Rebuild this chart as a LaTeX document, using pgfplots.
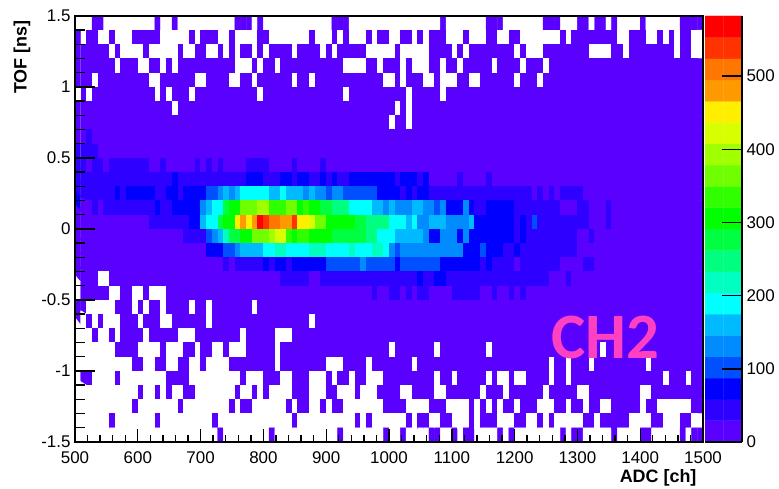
\documentclass[border=0pt]{standalone}
\usepackage{pgfplots}
\pgfplotsset{compat=1.18}
\usepackage{fontspec}
\setmainfont{Liberation Sans}
\newfontfamily\chfont{Carlito}
\pgfplotsset{
  rootcolors/.style={
    colormap={root}{
      rgb255(0pt)=(255,255,255) rgb255(9pt)=(90,0,255) rgb255(44pt)=(46,0,255) rgb255(73pt)=(0,0,255)
      rgb255(102pt)=(0,80,255) rgb255(131pt)=(0,140,255) rgb255(160pt)=(0,186,255) rgb255(189pt)=(0,255,255)
      rgb255(218pt)=(0,255,192) rgb255(247pt)=(0,255,128) rgb255(276pt)=(0,255,64) rgb255(305pt)=(0,255,0)
      rgb255(335pt)=(48,255,0) rgb255(364pt)=(112,255,0) rgb255(393pt)=(160,255,0) rgb255(422pt)=(216,255,0)
      rgb255(451pt)=(255,238,0) rgb255(480pt)=(255,153,0) rgb255(509pt)=(255,119,0) rgb255(538pt)=(255,51,0)
      rgb255(567pt)=(255,0,0)
    },
    point meta min=0, point meta max=567
  }
}
\begin{document}
\begin{tikzpicture}
\path[use as bounding box] (-75bp,-47bp) rectangle (704bp,442bp);
\begin{axis}[
  at={(0bp,0bp)}, anchor=south west, scale only axis, width=628bp, height=426bp,
  rootcolors, axis on top,
  xmin=500, xmax=1500, ymin=-1.5, ymax=1.5,
  axis line style={line width=1.3bp},
  xtick={500,600,700,800,900,1000,1100,1200,1300,1400,1500},
  xticklabels={500,600,700,800,900,1000,1100,1200,1300,1400,1500},
  minor x tick num=4,
  ytick=\empty,
  tick align=inside, xtick pos=bottom,
  major tick length=13bp, minor tick length=7bp,
  every tick/.style={black,line width=1.4bp},
  tick label style={font=\fontsize{17}{18}\selectfont},
  xticklabel style={yshift=-6bp},
]
\addplot[matrix plot*, mesh/cols=110, mesh/rows=30, mesh/ordering=x varies, point meta=explicit]
 table[header=false, row sep=\\, x expr={500+(mod(\coordindex,110)+0.5)*1000/110}, y expr={1.45-0.1*floor(\coordindex/110)}, meta index=0]{
0\\0\\0\\9\\9\\0\\0\\0\\0\\0\\ 0\\0\\0\\0\\9\\0\\0\\9\\0\\0\\ 0\\0\\0\\0\\0\\0\\0\\0\\9\\9\\ 9\\0\\9\\0\\0\\0\\0\\0\\0\\0\\ 0\\0\\0\\0\\0\\9\\9\\9\\0\\0\\ 0\\0\\0\\0\\0\\0\\0\\0\\0\\0\\ 0\\0\\0\\0\\9\\0\\0\\0\\0\\0\\ 0\\0\\9\\9\\9\\0\\0\\0\\0\\0\\ 0\\0\\9\\9\\9\\0\\0\\0\\9\\9\\ 0\\9\\9\\0\\9\\0\\0\\0\\0\\9\\ 0\\0\\0\\0\\0\\0\\9\\9\\9\\9\\
9\\0\\9\\9\\0\\0\\9\\0\\0\\0\\ 9\\9\\9\\9\\9\\0\\0\\0\\0\\0\\ 9\\0\\9\\9\\9\\0\\0\\9\\0\\0\\ 0\\0\\9\\9\\0\\0\\0\\0\\0\\0\\ 0\\9\\0\\0\\0\\9\\0\\9\\0\\0\\ 0\\9\\0\\9\\9\\0\\0\\9\\9\\0\\ 9\\0\\9\\9\\9\\0\\0\\0\\9\\0\\ 0\\0\\9\\9\\0\\0\\9\\9\\0\\0\\ 0\\0\\0\\0\\0\\9\\0\\9\\9\\9\\ 9\\9\\9\\9\\9\\0\\0\\9\\9\\9\\ 0\\0\\9\\0\\9\\0\\9\\9\\0\\0\\
9\\9\\9\\9\\9\\9\\0\\9\\0\\0\\ 0\\0\\9\\0\\0\\0\\0\\0\\9\\0\\ 0\\9\\9\\0\\0\\9\\0\\9\\0\\9\\ 9\\0\\9\\0\\9\\9\\9\\9\\0\\9\\ 9\\9\\9\\0\\9\\0\\9\\9\\9\\9\\ 9\\0\\0\\0\\0\\0\\9\\0\\0\\0\\ 0\\0\\9\\9\\9\\9\\0\\9\\0\\9\\ 9\\9\\9\\9\\9\\9\\9\\0\\9\\0\\ 0\\0\\9\\9\\9\\9\\9\\9\\9\\9\\ 0\\0\\0\\0\\9\\9\\0\\9\\9\\9\\ 9\\9\\9\\9\\9\\0\\9\\9\\0\\0\\
9\\9\\9\\9\\9\\9\\9\\0\\9\\9\\ 9\\0\\0\\9\\9\\0\\9\\0\\9\\9\\ 9\\9\\9\\9\\9\\9\\9\\9\\0\\0\\ 0\\9\\0\\9\\9\\0\\9\\9\\9\\9\\ 9\\9\\9\\9\\9\\9\\9\\0\\0\\0\\ 0\\9\\9\\0\\9\\9\\9\\0\\9\\0\\ 0\\0\\9\\9\\0\\9\\9\\0\\9\\9\\ 9\\9\\9\\0\\9\\9\\9\\9\\0\\9\\ 9\\9\\0\\9\\9\\9\\9\\9\\9\\9\\ 9\\9\\9\\9\\9\\9\\9\\9\\9\\9\\ 9\\9\\9\\9\\9\\9\\9\\9\\9\\9\\
9\\9\\9\\0\\9\\9\\9\\9\\9\\9\\ 9\\9\\9\\0\\0\\9\\9\\9\\9\\9\\ 9\\0\\0\\9\\9\\9\\9\\0\\0\\9\\ 9\\0\\9\\9\\9\\9\\9\\9\\0\\9\\ 9\\0\\9\\9\\9\\9\\9\\9\\9\\9\\ 9\\9\\9\\9\\0\\0\\9\\0\\9\\9\\ 9\\0\\0\\9\\0\\0\\0\\9\\9\\0\\ 0\\9\\9\\9\\9\\9\\9\\0\\9\\9\\ 9\\0\\9\\9\\9\\9\\9\\9\\9\\9\\ 9\\9\\9\\9\\9\\9\\9\\9\\9\\9\\ 9\\9\\9\\9\\9\\9\\9\\9\\9\\9\\
0\\9\\0\\9\\9\\9\\9\\9\\9\\9\\ 9\\9\\9\\9\\0\\9\\0\\9\\9\\9\\ 0\\9\\9\\9\\9\\9\\9\\9\\9\\9\\ 9\\9\\0\\9\\9\\9\\9\\9\\9\\9\\ 9\\9\\9\\9\\9\\9\\9\\0\\9\\9\\ 9\\9\\9\\9\\9\\9\\9\\9\\0\\9\\ 9\\9\\9\\9\\0\\9\\9\\9\\9\\9\\ 9\\9\\9\\9\\9\\9\\9\\9\\9\\9\\ 9\\9\\9\\9\\9\\9\\9\\9\\9\\9\\ 9\\9\\9\\9\\9\\9\\9\\9\\9\\9\\ 9\\9\\9\\9\\9\\9\\9\\9\\9\\9\\
9\\9\\9\\9\\9\\9\\9\\9\\9\\9\\ 9\\9\\9\\9\\9\\9\\9\\0\\9\\9\\ 9\\9\\9\\9\\9\\9\\9\\9\\9\\9\\ 9\\9\\9\\9\\9\\9\\9\\9\\9\\9\\ 9\\9\\9\\9\\9\\9\\9\\9\\9\\9\\ 9\\9\\9\\9\\9\\9\\0\\9\\0\\9\\ 9\\9\\9\\9\\9\\9\\9\\9\\9\\9\\ 9\\9\\9\\9\\9\\9\\9\\9\\9\\9\\ 9\\9\\9\\9\\9\\9\\9\\9\\9\\9\\ 9\\9\\9\\9\\9\\9\\9\\9\\9\\9\\ 9\\9\\9\\9\\9\\9\\9\\9\\9\\9\\
9\\9\\9\\9\\9\\9\\9\\9\\9\\9\\ 9\\9\\9\\9\\9\\9\\9\\9\\9\\9\\ 9\\9\\9\\9\\9\\9\\9\\9\\9\\9\\ 9\\9\\9\\9\\9\\9\\9\\9\\9\\9\\ 9\\9\\9\\9\\9\\9\\9\\9\\9\\9\\ 9\\9\\9\\9\\9\\0\\9\\9\\0\\9\\ 9\\9\\9\\9\\9\\9\\9\\9\\9\\9\\ 9\\9\\9\\9\\9\\9\\9\\9\\9\\9\\ 9\\9\\9\\9\\9\\9\\9\\9\\9\\9\\ 9\\9\\9\\9\\9\\9\\9\\9\\9\\9\\ 9\\9\\9\\9\\9\\9\\9\\9\\9\\9\\
9\\9\\44\\9\\9\\9\\9\\9\\9\\9\\ 9\\9\\9\\9\\9\\9\\9\\9\\9\\9\\ 9\\9\\9\\9\\9\\9\\9\\9\\9\\9\\ 9\\9\\9\\9\\9\\9\\9\\9\\9\\9\\ 9\\9\\9\\9\\9\\9\\9\\9\\9\\9\\ 9\\9\\9\\9\\9\\9\\9\\9\\9\\9\\ 9\\9\\9\\9\\9\\9\\9\\9\\9\\9\\ 9\\9\\9\\9\\9\\9\\9\\9\\9\\9\\ 9\\9\\9\\9\\9\\9\\9\\9\\9\\9\\ 9\\9\\9\\9\\9\\9\\9\\9\\9\\9\\ 9\\9\\9\\9\\9\\9\\9\\9\\9\\9\\
44\\44\\44\\44\\9\\9\\9\\9\\9\\9\\ 9\\9\\9\\9\\9\\9\\9\\9\\9\\9\\ 9\\9\\9\\9\\9\\9\\9\\9\\9\\9\\ 9\\9\\9\\9\\9\\9\\9\\9\\9\\9\\ 9\\9\\9\\9\\9\\9\\9\\9\\9\\9\\ 9\\9\\9\\9\\9\\9\\9\\9\\9\\9\\ 9\\9\\9\\9\\9\\9\\9\\9\\9\\9\\ 9\\9\\9\\9\\9\\9\\9\\9\\9\\9\\ 9\\9\\9\\9\\9\\9\\9\\9\\9\\9\\ 9\\9\\9\\9\\9\\9\\9\\9\\9\\9\\ 9\\9\\9\\9\\9\\9\\9\\9\\9\\9\\
44\\44\\9\\44\\44\\9\\44\\44\\44\\44\\ 44\\44\\44\\9\\9\\44\\9\\9\\9\\9\\ 9\\44\\9\\44\\9\\44\\9\\9\\9\\9\\ 44\\44\\44\\44\\9\\9\\9\\9\\44\\9\\ 9\\9\\9\\44\\9\\9\\9\\9\\9\\9\\ 9\\9\\9\\9\\9\\9\\9\\9\\9\\9\\ 9\\9\\9\\9\\9\\9\\9\\9\\9\\9\\ 9\\9\\9\\9\\9\\9\\9\\9\\9\\9\\ 9\\9\\9\\9\\9\\9\\9\\9\\9\\9\\ 9\\9\\9\\9\\9\\9\\9\\9\\9\\9\\ 9\\9\\9\\9\\9\\9\\9\\9\\9\\9\\
44\\44\\44\\44\\44\\44\\44\\44\\44\\44\\ 44\\44\\44\\44\\44\\44\\44\\73\\44\\44\\ 44\\44\\44\\44\\44\\44\\44\\44\\44\\44\\ 73\\73\\73\\44\\44\\44\\73\\73\\44\\73\\ 73\\44\\44\\73\\44\\73\\44\\44\\73\\73\\ 73\\73\\73\\73\\73\\73\\44\\73\\73\\73\\ 44\\73\\9\\9\\9\\9\\9\\44\\9\\9\\ 9\\9\\44\\9\\9\\9\\9\\9\\9\\9\\ 9\\9\\9\\9\\9\\9\\9\\9\\9\\9\\ 9\\9\\9\\9\\9\\9\\9\\9\\9\\9\\ 9\\9\\9\\9\\9\\9\\9\\9\\9\\9\\
44\\44\\44\\44\\44\\44\\44\\73\\44\\73\\ 73\\73\\73\\73\\44\\44\\73\\73\\44\\73\\ 73\\73\\73\\102\\102\\131\\160\\131\\160\\189\\ 189\\189\\189\\189\\160\\160\\189\\160\\160\\160\\ 131\\160\\131\\131\\102\\131\\131\\102\\102\\102\\ 102\\102\\102\\73\\73\\73\\73\\44\\73\\44\\ 73\\73\\44\\44\\44\\44\\44\\44\\44\\44\\ 44\\44\\44\\44\\44\\44\\44\\44\\44\\44\\ 9\\44\\9\\44\\9\\44\\44\\44\\44\\9\\ 9\\9\\9\\9\\9\\9\\9\\9\\9\\9\\ 9\\9\\9\\9\\9\\9\\9\\9\\9\\9\\
73\\9\\9\\44\\9\\44\\44\\44\\44\\44\\ 44\\44\\44\\44\\73\\44\\44\\73\\73\\73\\ 73\\73\\131\\160\\189\\189\\276\\305\\305\\364\\ 364\\364\\393\\393\\335\\335\\335\\364\\364\\305\\ 335\\305\\305\\276\\276\\247\\247\\247\\189\\189\\ 189\\189\\160\\160\\131\\160\\131\\131\\131\\160\\ 160\\131\\131\\102\\131\\73\\73\\73\\131\\73\\ 44\\44\\73\\73\\73\\73\\73\\44\\44\\44\\ 44\\44\\44\\44\\44\\9\\9\\9\\44\\44\\ 9\\9\\9\\44\\9\\9\\9\\9\\9\\9\\ 9\\9\\9\\9\\9\\9\\9\\9\\9\\9\\
9\\9\\9\\9\\9\\9\\9\\9\\9\\9\\ 9\\9\\9\\44\\44\\44\\44\\44\\44\\44\\ 73\\73\\160\\189\\189\\276\\305\\305\\451\\480\\ 451\\480\\567\\538\\509\\509\\480\\480\\538\\451\\ 451\\422\\364\\364\\305\\305\\305\\305\\305\\276\\ 276\\247\\247\\247\\247\\189\\189\\189\\160\\189\\ 131\\131\\160\\160\\160\\131\\131\\131\\131\\160\\ 73\\73\\73\\73\\73\\73\\73\\44\\73\\44\\ 102\\44\\44\\44\\44\\44\\44\\44\\44\\44\\ 9\\9\\9\\44\\9\\9\\9\\9\\9\\9\\ 9\\9\\9\\9\\9\\9\\9\\9\\9\\9\\
9\\9\\9\\9\\9\\9\\9\\9\\9\\9\\ 9\\9\\9\\9\\9\\9\\9\\9\\9\\44\\ 44\\44\\44\\102\\131\\160\\218\\276\\276\\305\\ 305\\364\\364\\364\\393\\422\\422\\335\\305\\335\\ 335\\305\\305\\305\\305\\276\\276\\276\\276\\276\\ 276\\247\\247\\189\\189\\189\\160\\160\\160\\160\\ 160\\131\\73\\73\\131\\131\\131\\73\\131\\73\\ 73\\73\\73\\73\\73\\73\\73\\44\\73\\44\\ 44\\44\\44\\44\\44\\44\\44\\44\\9\\9\\ 44\\9\\9\\9\\9\\9\\9\\9\\9\\9\\ 9\\9\\9\\9\\9\\9\\9\\9\\9\\9\\
9\\9\\9\\9\\9\\9\\9\\9\\9\\9\\ 9\\9\\9\\9\\9\\9\\9\\9\\9\\9\\ 9\\9\\9\\73\\73\\73\\102\\102\\131\\160\\ 160\\160\\160\\189\\189\\218\\218\\189\\189\\189\\ 189\\218\\218\\218\\189\\189\\189\\189\\218\\189\\ 189\\189\\218\\218\\189\\131\\102\\131\\131\\131\\ 131\\131\\131\\131\\131\\131\\131\\131\\73\\73\\ 73\\102\\73\\73\\73\\44\\44\\73\\44\\44\\ 44\\44\\44\\44\\44\\44\\44\\44\\9\\9\\ 9\\9\\9\\9\\9\\9\\9\\9\\9\\9\\ 9\\9\\9\\9\\9\\9\\9\\9\\9\\9\\
9\\9\\9\\9\\9\\9\\9\\9\\9\\9\\ 9\\9\\9\\9\\9\\9\\9\\9\\9\\9\\ 9\\9\\9\\9\\9\\9\\44\\9\\44\\44\\ 44\\44\\44\\73\\44\\73\\73\\44\\73\\73\\ 73\\73\\73\\73\\102\\102\\102\\102\\102\\102\\ 131\\102\\102\\102\\102\\102\\73\\102\\102\\102\\ 102\\102\\102\\102\\73\\73\\73\\73\\73\\73\\ 73\\44\\73\\44\\44\\44\\44\\9\\44\\44\\ 44\\44\\44\\44\\44\\9\\9\\9\\9\\44\\ 44\\9\\9\\9\\9\\9\\9\\9\\9\\9\\ 9\\9\\9\\9\\9\\9\\9\\9\\9\\9\\
9\\9\\9\\9\\0\\0\\9\\9\\9\\9\\ 9\\9\\9\\9\\9\\9\\9\\9\\9\\9\\ 9\\9\\9\\9\\9\\9\\9\\9\\9\\9\\ 9\\9\\9\\9\\9\\9\\44\\44\\44\\44\\ 44\\9\\9\\44\\44\\44\\44\\44\\44\\44\\ 44\\44\\44\\44\\44\\44\\44\\44\\44\\44\\ 73\\44\\44\\73\\73\\44\\44\\44\\44\\44\\ 44\\44\\44\\44\\44\\44\\44\\44\\44\\44\\ 44\\44\\44\\9\\9\\9\\44\\9\\9\\9\\ 9\\9\\9\\9\\9\\9\\9\\9\\9\\9\\ 9\\9\\9\\9\\9\\9\\9\\9\\9\\9\\
0\\9\\9\\9\\9\\9\\0\\0\\9\\9\\ 0\\0\\9\\0\\0\\0\\9\\9\\9\\9\\ 9\\9\\9\\9\\9\\9\\9\\9\\9\\9\\ 9\\9\\9\\9\\9\\9\\9\\9\\9\\9\\ 9\\9\\9\\9\\9\\9\\9\\9\\9\\9\\ 9\\9\\44\\9\\9\\44\\44\\9\\44\\9\\ 44\\44\\9\\9\\9\\9\\44\\44\\44\\44\\ 44\\9\\9\\44\\9\\9\\44\\9\\44\\9\\ 9\\9\\9\\9\\9\\9\\9\\9\\9\\9\\ 9\\9\\9\\9\\9\\9\\9\\9\\9\\9\\ 9\\9\\9\\9\\9\\9\\9\\9\\9\\9\\
9\\9\\0\\0\\0\\0\\0\\9\\9\\9\\ 0\\9\\0\\9\\9\\0\\9\\9\\9\\9\\ 0\\9\\9\\0\\9\\9\\9\\9\\9\\9\\ 9\\0\\9\\9\\9\\9\\9\\9\\9\\9\\ 9\\9\\9\\9\\9\\9\\9\\9\\9\\9\\ 9\\9\\9\\9\\9\\9\\9\\9\\9\\9\\ 9\\9\\9\\9\\9\\9\\9\\9\\9\\9\\ 9\\9\\9\\9\\9\\9\\9\\9\\9\\9\\ 9\\9\\9\\9\\9\\9\\9\\9\\9\\9\\ 9\\9\\9\\9\\9\\9\\9\\9\\9\\9\\ 9\\9\\9\\9\\9\\9\\9\\9\\9\\9\\
9\\0\\9\\0\\9\\0\\0\\0\\9\\9\\ 9\\0\\9\\9\\9\\0\\0\\9\\9\\9\\ 9\\9\\9\\0\\9\\9\\9\\9\\9\\9\\ 9\\9\\9\\9\\9\\9\\9\\9\\9\\9\\ 9\\0\\9\\9\\9\\9\\9\\9\\9\\9\\ 9\\9\\9\\9\\9\\9\\9\\9\\9\\9\\ 9\\9\\9\\9\\9\\9\\9\\9\\9\\9\\ 9\\9\\9\\9\\9\\9\\9\\9\\9\\9\\ 9\\9\\9\\9\\9\\9\\9\\9\\9\\9\\ 9\\9\\9\\9\\9\\9\\9\\9\\9\\9\\ 9\\9\\9\\9\\9\\9\\9\\9\\9\\9\\
0\\0\\0\\9\\0\\0\\9\\0\\9\\9\\ 9\\9\\0\\9\\9\\9\\9\\9\\0\\0\\ 0\\9\\9\\9\\9\\9\\9\\9\\9\\0\\ 9\\9\\9\\9\\9\\0\\0\\0\\9\\9\\ 9\\9\\9\\9\\9\\9\\9\\9\\9\\9\\ 9\\9\\9\\9\\9\\9\\9\\9\\9\\9\\ 9\\9\\9\\9\\9\\9\\9\\9\\9\\9\\ 9\\9\\9\\9\\9\\9\\9\\9\\9\\9\\ 9\\9\\9\\9\\9\\9\\9\\9\\9\\9\\ 9\\9\\9\\9\\9\\9\\9\\9\\9\\9\\ 9\\9\\9\\9\\9\\9\\9\\9\\9\\9\\
0\\0\\0\\0\\0\\0\\0\\9\\9\\9\\ 9\\0\\0\\0\\0\\9\\0\\0\\0\\9\\ 9\\0\\9\\9\\0\\0\\9\\0\\0\\0\\ 9\\9\\9\\9\\9\\0\\9\\9\\9\\9\\ 9\\9\\9\\9\\9\\9\\9\\9\\9\\9\\ 9\\9\\9\\9\\9\\0\\9\\9\\9\\9\\ 9\\9\\9\\0\\9\\9\\9\\9\\9\\9\\ 9\\9\\0\\9\\9\\9\\9\\9\\9\\9\\ 9\\9\\9\\9\\9\\9\\9\\9\\9\\9\\ 9\\9\\0\\9\\9\\9\\9\\9\\9\\9\\ 9\\9\\9\\9\\9\\9\\9\\9\\9\\9\\
0\\0\\0\\0\\0\\0\\0\\0\\0\\0\\ 9\\9\\0\\0\\9\\9\\0\\0\\9\\9\\ 0\\0\\9\\0\\0\\0\\0\\9\\9\\9\\ 9\\9\\9\\9\\9\\0\\9\\9\\9\\9\\ 9\\9\\9\\9\\0\\0\\0\\9\\9\\9\\ 9\\0\\9\\9\\9\\9\\9\\9\\9\\0\\ 9\\9\\9\\9\\9\\9\\9\\9\\9\\9\\ 9\\9\\9\\9\\9\\9\\9\\9\\9\\9\\ 9\\9\\9\\0\\9\\9\\0\\9\\9\\9\\ 0\\9\\9\\9\\9\\9\\9\\9\\9\\9\\ 0\\9\\9\\9\\9\\9\\9\\9\\9\\9\\
0\\9\\9\\0\\0\\0\\0\\9\\0\\0\\ 0\\0\\0\\0\\0\\0\\9\\9\\9\\9\\ 0\\0\\0\\0\\0\\0\\0\\0\\0\\9\\ 0\\0\\0\\9\\9\\9\\0\\0\\9\\9\\ 9\\0\\0\\0\\9\\0\\9\\9\\0\\9\\ 9\\0\\0\\0\\9\\9\\9\\9\\9\\9\\ 9\\9\\9\\0\\9\\9\\0\\9\\9\\9\\ 9\\9\\0\\9\\0\\0\\9\\0\\0\\9\\ 9\\9\\9\\0\\9\\9\\0\\9\\9\\9\\ 9\\9\\9\\9\\9\\9\\9\\9\\9\\9\\ 9\\9\\9\\0\\9\\9\\9\\0\\9\\9\\
0\\0\\0\\0\\0\\0\\0\\0\\0\\0\\ 0\\9\\0\\0\\9\\0\\9\\0\\0\\9\\ 9\\0\\0\\0\\0\\0\\0\\0\\9\\0\\ 0\\9\\0\\9\\0\\0\\0\\0\\9\\9\\ 9\\0\\0\\0\\9\\9\\0\\0\\0\\9\\ 0\\0\\0\\9\\9\\9\\9\\0\\0\\9\\ 9\\9\\9\\0\\0\\9\\9\\9\\9\\9\\ 9\\0\\9\\9\\9\\0\\9\\9\\9\\9\\ 9\\9\\0\\9\\9\\9\\9\\9\\0\\0\\ 9\\9\\9\\9\\9\\9\\9\\9\\9\\0\\ 0\\9\\9\\9\\9\\9\\9\\9\\9\\9\\
0\\0\\0\\0\\0\\0\\0\\0\\0\\0\\ 9\\0\\0\\0\\0\\0\\0\\0\\9\\0\\ 0\\0\\0\\0\\0\\0\\0\\9\\0\\9\\ 9\\0\\0\\0\\0\\0\\0\\9\\0\\9\\ 9\\0\\0\\9\\0\\9\\9\\0\\0\\0\\ 0\\0\\0\\0\\9\\9\\9\\9\\0\\0\\ 0\\0\\9\\9\\9\\0\\0\\0\\0\\9\\ 0\\9\\0\\9\\0\\9\\9\\0\\9\\9\\ 9\\0\\0\\0\\9\\9\\0\\9\\9\\0\\ 9\\9\\0\\0\\9\\9\\9\\9\\9\\0\\ 9\\9\\0\\0\\0\\0\\0\\0\\9\\9\\
0\\0\\0\\0\\0\\0\\9\\0\\0\\0\\ 0\\0\\0\\0\\9\\0\\0\\0\\0\\0\\ 0\\0\\0\\0\\9\\0\\0\\0\\0\\0\\ 0\\0\\0\\0\\0\\0\\0\\0\\9\\0\\ 0\\0\\0\\0\\0\\0\\0\\0\\0\\9\\ 0\\9\\0\\0\\0\\0\\0\\0\\9\\0\\ 9\\9\\0\\0\\9\\9\\0\\0\\0\\9\\ 0\\9\\9\\9\\0\\0\\0\\9\\9\\0\\ 0\\9\\0\\9\\0\\0\\0\\0\\0\\9\\ 9\\0\\9\\9\\9\\9\\9\\0\\0\\0\\ 0\\9\\9\\0\\0\\0\\9\\9\\0\\0\\
0\\0\\0\\0\\0\\0\\0\\0\\0\\0\\ 0\\0\\0\\0\\0\\0\\0\\0\\0\\0\\ 0\\0\\0\\0\\0\\9\\0\\0\\0\\0\\ 0\\0\\0\\0\\9\\0\\0\\0\\0\\0\\ 0\\0\\0\\0\\0\\0\\9\\0\\0\\0\\ 0\\0\\0\\0\\9\\0\\0\\9\\0\\0\\ 0\\0\\9\\9\\0\\0\\9\\0\\9\\9\\ 0\\0\\0\\0\\9\\0\\9\\0\\0\\0\\ 0\\0\\0\\0\\0\\9\\0\\9\\9\\0\\ 0\\0\\0\\0\\9\\0\\0\\0\\0\\9\\ 9\\0\\0\\0\\0\\0\\9\\0\\9\\9\\
};
\end{axis}
\begin{axis}[
  at={(0bp,0bp)}, anchor=south west, scale only axis, width=628bp, height=426bp,
  axis on top,
  xmin=500, xmax=1500, ymin=-1.5, ymax=1.5,
  axis line style={line width=1.3bp},
  xtick=\empty,
  ytick={-1.5,-1,-0.5,0,0.5,1,1.5},
  yticklabels={-1.5,-1,-0.5,0,0.5,1,1.5},
  minor y tick num=4,
  tick align=inside, ytick pos=left,
  major tick length=20bp, minor tick length=10bp,
  every tick/.style={black,line width=1.4bp},
  tick label style={font=\fontsize{17}{18}\selectfont},
  yticklabel style={xshift=-1bp},
]
\addplot[draw=none, forget plot] coordinates {(500,0) (1500,0)};
\end{axis}
\begin{axis}[
  at={(630bp,0bp)}, anchor=south west, scale only axis, width=37bp, height=426bp,
  rootcolors, axis on top,
  xmin=-0.5, xmax=1.5, ymin=0, ymax=582,
  axis y line*=right, axis x line*=bottom,
  axis line style={line width=1.3bp, -},
  xtick=\empty,
  ytick={0,100,200,300,400,500},
  yticklabels={0,100,200,300,400,500},
  tick align=inside,
  major tick length=20bp,
  every tick/.style={black,line width=1.4bp},
  tick label style={font=\fontsize{17}{18}\selectfont},
  yticklabel style={xshift=1bp},
]
\addplot[matrix plot*, mesh/cols=2, mesh/rows=20, mesh/ordering=x varies, point meta=explicit]
 table[x=x, y=y, meta=z]{
x y z
0 14.55 9
1 14.55 9
0 43.65 44
1 43.65 44
0 72.75 73
1 72.75 73
0 101.85 102
1 101.85 102
0 130.95 131
1 130.95 131
0 160.05 160
1 160.05 160
0 189.15 189
1 189.15 189
0 218.25 218
1 218.25 218
0 247.35 247
1 247.35 247
0 276.45 276
1 276.45 276
0 305.55 305
1 305.55 305
0 334.65 335
1 334.65 335
0 363.75 364
1 363.75 364
0 392.85 393
1 392.85 393
0 421.95 422
1 421.95 422
0 451.05 451
1 451.05 451
0 480.15 480
1 480.15 480
0 509.25 509
1 509.25 509
0 538.35 538
1 538.35 538
0 567.45 567
1 567.45 567
};
\end{axis}
\node[anchor=east, font=\fontsize{18}{20}\selectfont\bfseries] at (625bp,-36bp) {ADC [ch]};
\node[rotate=90, anchor=east, font=\fontsize{18}{20}\selectfont\bfseries] at (-53bp,425bp) {TOF [ns]};
\node[font=\fontsize{65}{70}\selectfont\chfont\bfseries, text={rgb,255:red,255;green,64;blue,192}] at (530bp,105bp) {CH2};
\end{tikzpicture}
\end{document}
